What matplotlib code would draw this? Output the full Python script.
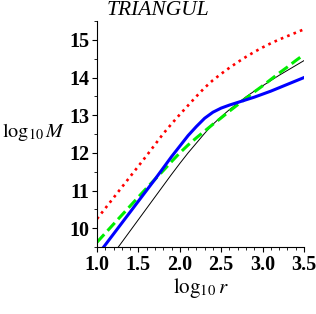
import numpy as np
import matplotlib
matplotlib.use('Agg')
import matplotlib.pyplot as plt
from matplotlib.ticker import MultipleLocator

plt.rcParams['mathtext.fontset'] = 'stix'

# log10 r grid and the four curves
log_r = [1.0, 1.1, 1.2, 1.3, 1.4, 1.5, 1.6, 1.7, 1.8, 1.9, 2.0, 2.1, 2.2,
         2.3, 2.4, 2.5, 2.6, 2.7, 2.8, 2.9, 3.0, 3.1, 3.2, 3.3, 3.4, 3.5]

red_dotted = [10.25, 10.53, 10.81, 11.09, 11.37, 11.65, 11.93, 12.22, 12.51,
              12.77, 13.02, 13.26, 13.50, 13.73, 13.93, 14.10, 14.26, 14.41,
              14.55, 14.68, 14.80, 14.91, 15.01, 15.10, 15.19, 15.28]

blue_solid = [9.27, 9.56, 9.85, 10.14, 10.43, 10.72, 11.01, 11.30, 11.60,
              11.90, 12.18, 12.46, 12.70, 12.92, 13.08, 13.19, 13.27, 13.34,
              13.41, 13.48, 13.56, 13.64, 13.73, 13.82, 13.91, 14.00]

green_dashed = [9.63, 9.87, 10.11, 10.35, 10.59, 10.83, 11.07, 11.30, 11.53,
                11.77, 12.00, 12.21, 12.40, 12.58, 12.76, 12.93, 13.11, 13.28,
                13.45, 13.62, 13.78, 13.95, 14.12, 14.28, 14.45, 14.61]

black_thin = [8.73, 9.03, 9.33, 9.63, 9.93, 10.23, 10.53, 10.83, 11.13,
              11.43, 11.72, 12.00, 12.26, 12.52, 12.76, 12.96, 13.15, 13.32,
              13.49, 13.64, 13.78, 13.92, 14.06, 14.19, 14.32, 14.45]

fig = plt.figure(figsize=(3.16, 3.14), dpi=100)
ax = fig.add_axes([0.307, 0.213, 0.655, 0.72])

ax.plot(log_r, black_thin, color='black', lw=0.7)
ax.plot(log_r, red_dotted, color='red', lw=1.9, linestyle=(0, (1, 1.6)))
ax.plot(log_r, green_dashed, color='#00ee00', lw=2.2, linestyle=(0, (3.5, 1.6)))
ax.plot(log_r, blue_solid, color='blue', lw=2.2)

ax.set_xlim(1.0, 3.5)
ax.set_ylim(9.5, 15.5)

ax.spines['top'].set_visible(False)
ax.spines['right'].set_visible(False)
ax.spines['left'].set_linewidth(0.8)
ax.spines['bottom'].set_linewidth(0.8)

ax.xaxis.set_major_locator(MultipleLocator(0.5))
ax.xaxis.set_minor_locator(MultipleLocator(0.1))
ax.yaxis.set_major_locator(MultipleLocator(1))
ax.yaxis.set_minor_locator(MultipleLocator(0.5))
ax.tick_params(which='major', direction='out', length=3.5, width=0.8, pad=2)
ax.tick_params(which='minor', direction='out', length=2, width=0.6)
ax.set_xticklabels([f'{v:.1f}' for v in ax.get_xticks()])

for lab in ax.get_xticklabels() + ax.get_yticklabels():
    lab.set_fontfamily('Liberation Serif')
    lab.set_fontweight('bold')
    lab.set_fontsize(14.5)

ax.set_xlabel(r'$\mathrm{log}_{10}\,r$', fontsize=15, labelpad=1)
ax.set_ylabel(r'$\mathrm{log}_{10}\,M$', fontsize=14.5, rotation=0,
              ha='left', va='baseline')
ax.yaxis.set_label_coords(-0.46, 0.487)

fig.text(0.5, 0.968, 'TRIANGUL', ha='center', va='center',
         fontfamily='Liberation Serif', fontstyle='italic', fontsize=15.5)

fig.savefig('out.png', dpi=100)
